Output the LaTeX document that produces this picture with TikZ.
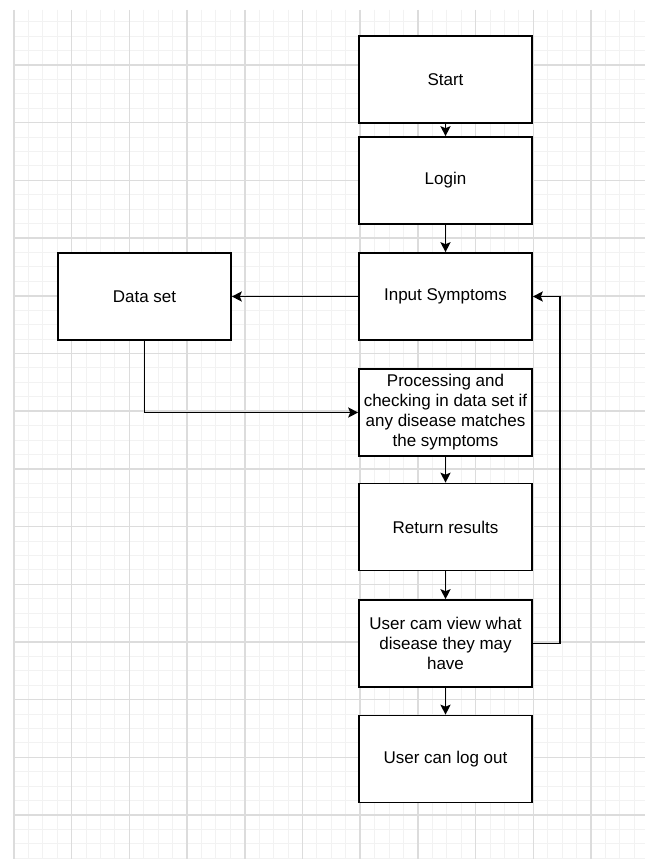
\documentclass[tikz,border=0pt]{standalone}
\usepackage{fontspec}
\setmainfont{Liberation Sans}
\usetikzlibrary{arrows.meta}
\definecolor{gridminor}{HTML}{F2F2F2}
\definecolor{gridmajor}{HTML}{DCDCDC}
\tikzset{
  box/.style={draw=black, line width=1.6pt, fill=white, minimum width=173pt, minimum height=87pt, inner sep=0pt, align=center, font=\fontsize{17pt}{20pt}\selectfont},
  conn/.style={draw=black, line width=1.6pt, -{Stealth[length=10pt,width=10pt,inset=2pt]}}
}
\begin{document}
\begin{tikzpicture}[x=1pt,y=-1pt]
\useasboundingbox (0,0) rectangle (645,859);
\fill[white] (0,0) rectangle (645,859);
% grid
\foreach \i in {0,...,43}{
  \pgfmathsetmacro{\xx}{14+\i*14.425}
  \pgfmathtruncatemacro{\mm}{mod(\i,4)}
  \ifnum\mm=0\relax
  \else
    \draw[gridminor, line width=1pt] (\xx,10) -- (\xx,859);
  \fi
}
\foreach \j in {-3,...,55}{
  \pgfmathsetmacro{\yy}{65+\j*14.425}
  \pgfmathtruncatemacro{\mm}{mod(\j+40,4)}
  \ifnum\mm=0\relax
  \else
    \draw[gridminor, line width=1pt] (14,\yy) -- (645,\yy);
  \fi
}
\foreach \i in {0,4,...,40}{
  \pgfmathsetmacro{\xx}{14+\i*14.425}
  \draw[gridmajor, line width=1.5pt] (\xx,10) -- (\xx,859);
}
\foreach \j in {0,4,...,52}{
  \pgfmathsetmacro{\yy}{65+\j*14.425}
  \draw[gridmajor, line width=1.5pt] (14,\yy) -- (645,\yy);
}
% nodes
\node[box] (start) at (445.5,79.5) {Start};
\node[box] (login) at (445.5,180.5) {Login};
\node[box] (input) at (445.5,296.5) {Input Symptoms};
\node[box] (proc) at (445.5,412.5) {Processing and\\checking in data set if\\any disease matches\\the symptoms};
\node[box] (ret) at (445.5,527) {Return results};
\node[box] (view) at (445.5,643.5) {User cam view what\\disease they may\\have};
\node[box] (logout) at (445.5,759) {User can log out};
\node[box] (data) at (144.5,296.5) {Data set};
\coordinate (fb) at (560,643.5);
% connectors
\draw[conn] (start) -- (login);
\draw[conn] (login) -- (input);
\draw[conn] (input) -- (data);
\draw[conn] (data.south) |- (proc.west);
\draw[conn] (proc) -- (ret);
\draw[conn] (ret) -- (view);
\draw[conn] (view) -- (logout);
\draw[conn] (view.east) -- (fb) |- (input.east);
\end{tikzpicture}
\end{document}
